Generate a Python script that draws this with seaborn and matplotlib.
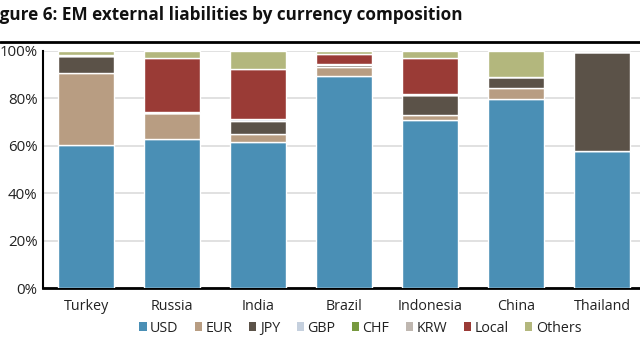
import matplotlib
matplotlib.use("Agg")
import matplotlib.pyplot as plt
import seaborn as sns
import numpy as np
import pandas as pd
from matplotlib.patches import Patch

countries = ["Turkey", "Russia", "India", "Brazil", "Indonesia", "China", "Thailand"]
USD = [60.2, 62.7, 61.7, 89.6, 70.7, 79.6, 58.0]
EUR = [30.5, 11.3, 3.3, 3.8, 2.4, 4.9, 0.0]
JPY = [7.1, 0.0, 5.3, 0.8, 8.4, 4.7, 41.4]
GBP = [0.2, 0.0, 0.8, 0.3, 0.0, 0.0, 0.0]
CHF = [0.0, 0.0, 0.0, 0.0, 0.0, 0.0, 0.0]
KRW = [0.2, 0.2, 0.0, 0.2, 0.5, 0.0, 0.0]
Local = [0.0, 22.8, 21.4, 3.9, 15.2, 0.0, 0.0]
Others = [1.8, 3.0, 7.5, 1.4, 2.8, 10.8, 0.0]

series_names = ["USD", "EUR", "JPY", "GBP", "CHF", "KRW", "Local", "Others"]
series_vals = [USD, EUR, JPY, GBP, CHF, KRW, Local, Others]
colors = ["#4A8FB5", "#B89D82", "#5B5248", "#C5D0DE", "#77993F", "#BFB7B0", "#9A3B36", "#B3B77D"]
yticks = [0, 20, 40, 60, 80, 100]
ytick_labels = ["0%", "20%", "40%", "60%", "80%", "100%"]

sns.set_style("white")
plt.rcParams["font.family"] = ["Open Sans", "DejaVu Sans"]

fig = plt.figure(figsize=(6.4, 3.41), dpi=100)
ax = fig.add_axes([43 / 640, (341 - 288) / 341, (645 - 43) / 640, (288 - 51) / 341])

bottom = np.zeros(len(countries))
for name, vals, col in zip(series_names, series_vals, colors):
    df = pd.DataFrame({"country": countries, "value": vals})
    sns.barplot(data=df, x="country", y="value", order=countries, color=col,
                bottom=bottom, width=0.66, edgecolor="white", linewidth=1,
                ax=ax, zorder=3, saturation=1)
    bottom = bottom + np.array(vals)

ax.set_xlim(-0.5, 6.5)
ax.set_ylim(0, 100)
ax.set_yticks(yticks)
ax.set_yticklabels(ytick_labels)
ax.set_xlabel("")
ax.set_ylabel("")
ax.yaxis.grid(True, color="#DCDCDC", linewidth=1.2, zorder=0)
ax.set_axisbelow(True)
for s in ["top", "right"]:
    ax.spines[s].set_visible(False)
ax.spines["left"].set_color("black")
ax.spines["left"].set_linewidth(1.5)
ax.spines["bottom"].set_color("black")
ax.spines["bottom"].set_linewidth(2)
ax.tick_params(axis="x", length=0, labelsize=10.3, colors="#222222", pad=8)
ax.tick_params(axis="y", length=0, labelsize=10.8, colors="#222222", pad=4)

handles = [Patch(facecolor=c, edgecolor="none", label=n) for n, c in zip(series_names, colors)]
fig.legend(handles=handles, loc="center", bbox_to_anchor=(0.563, 0.038), ncol=8,
           frameon=False, fontsize=10.3, handlelength=0.5, handleheight=0.5,
           handletextpad=0.25, columnspacing=1.15, labelcolor="#222222")

fig.text(-0.024, 1 - 20 / 341, "Figure 6: EM external liabilities by currency composition",
         fontsize=12.3, fontweight="bold", ha="left", va="baseline", color="#111111")
fig.add_artist(plt.Line2D([0, 1], [1 - 42 / 341, 1 - 42 / 341], color="black", linewidth=2,
                          transform=fig.transFigure))

fig.savefig("out.png", dpi=100)
